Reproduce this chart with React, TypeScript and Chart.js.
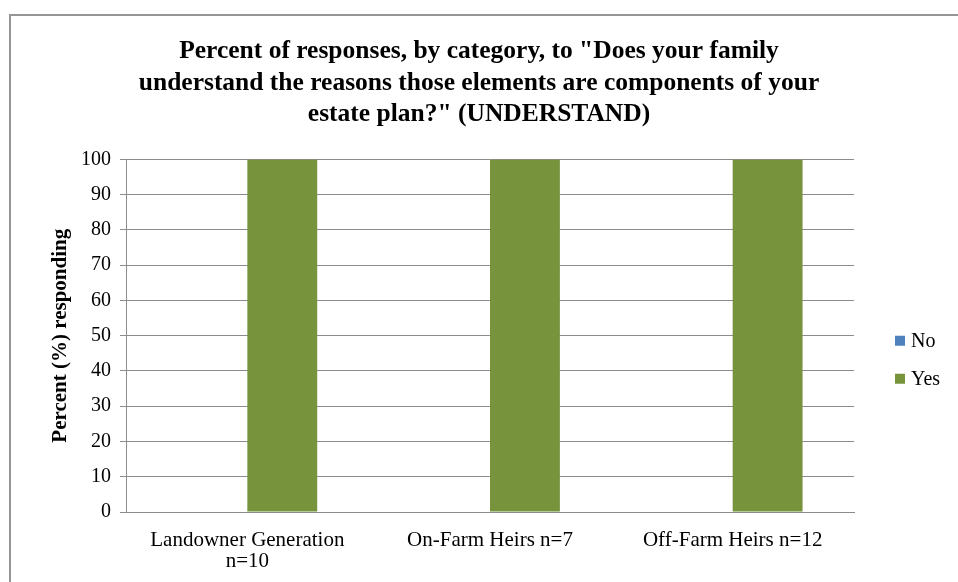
import React, { useEffect, useRef } from "react";
import { Chart, registerables } from "chart.js";

Chart.register(...registerables);

const titleLines = [
  'Percent of responses, by category, to "Does your family',
  "understand the reasons those elements are components of your",
  'estate plan?" (UNDERSTAND)',
];
const categories = [
  ["Landowner Generation", "n=10"],
  ["On-Farm Heirs n=7"],
  ["Off-Farm Heirs n=12"],
];
const seriesNames = ["No", "Yes"];
const noValues = [0, 0, 0];
const yesValues = [100, 100, 100];
const yTicks = { min: 0, max: 100, step: 10 };
const yAxisTitle = "Percent (%) responding";

const SERIF = "'Liberation Serif', 'Times New Roman', serif";
const GRID = "#8c8c8c";

const borderPlugin = {
  id: "outerBorder",
  beforeDraw(chart: any) {
    const ctx = chart.ctx;
    ctx.save();
    ctx.fillStyle = "#ffffff";
    ctx.fillRect(0, 0, chart.width, chart.height);
    ctx.strokeStyle = "#959595";
    ctx.lineWidth = 2;
    ctx.strokeRect(10, 15, 2000, 2000);
    ctx.restore();
  },
};

const legendPlugin = {
  id: "sideLegend",
  afterDraw(chart: any) {
    const ctx = chart.ctx;
    const area = chart.chartArea;
    const cy = (area.top + area.bottom) / 2;
    const x = area.right + 41;
    ctx.save();
    ctx.font = `20px ${SERIF}`;
    ctx.textBaseline = "middle";
    ctx.textAlign = "left";
    chart.data.datasets.forEach((ds: any, i: number) => {
      const y = cy + 5 + i * 38;
      ctx.fillStyle = ds.backgroundColor;
      ctx.fillRect(x, y - 5, 10, 10);
      ctx.fillStyle = "#000000";
      ctx.fillText(ds.label, x + 16, y + 1);
    });
    ctx.restore();
  },
};

export default function App() {
  const ref = useRef<HTMLCanvasElement>(null);
  useEffect(() => {
    const canvas = ref.current;
    if (!canvas) return;
    const chart = new Chart(canvas, {
      type: "bar",
      data: {
        labels: categories,
        datasets: [
          { label: seriesNames[0], data: noValues, backgroundColor: "#4F81BD" },
          { label: seriesNames[1], data: yesValues, backgroundColor: "#77933C" },
        ],
      },
      options: {
        responsive: false,
        animation: false,
        devicePixelRatio: 1,
        layout: { padding: { left: 0, right: 0, top: 0, bottom: 0 } },
        datasets: { bar: { categoryPercentage: 0.576, barPercentage: 1 } },
        plugins: {
          legend: { display: false },
          tooltip: { enabled: false },
          title: {
            display: true,
            text: titleLines,
            color: "#000000",
            font: { family: SERIF, size: 25.5, weight: "bold", lineHeight: 1.235 },
            padding: { top: 36, bottom: 29 },
          },
        },
        scales: {
          x: {
            grid: { display: false },
            border: { display: true, color: GRID, width: 1 },
            ticks: {
              color: "#000000",
              font: { family: SERIF, size: 21, lineHeight: 1.0 },
              padding: 10,
              maxRotation: 0,
              autoSkip: false,
            },
            afterFit: (s: any) => {
              s.height = 70;
            },
          },
          y: {
            min: yTicks.min,
            max: yTicks.max,
            grid: { color: GRID, lineWidth: 1, tickLength: 6, drawTicks: true },
            border: { display: true, color: GRID, width: 1 },
            ticks: {
              stepSize: yTicks.step,
              color: "#000000",
              font: { family: SERIF, size: 20 },
              padding: 9,
            },
            title: {
              display: true,
              text: yAxisTitle,
              color: "#000000",
              font: { family: SERIF, size: 21, weight: "bold", lineHeight: 1.2 },
              padding: { top: 48, bottom: 0 },
            },
            afterFit: (s: any) => {
              s.width = 126;
            },
          },
          spacer: {
            type: "linear",
            position: "right",
            display: true,
            grid: { display: false },
            border: { display: false },
            ticks: { display: false },
            afterFit: (s: any) => {
              s.width = 104;
            },
          },
        },
      },
      plugins: [borderPlugin, legendPlugin],
    } as any);
    return () => chart.destroy();
  }, []);
  return (
    <div style={{ position: "absolute", left: 0, top: 0, width: 958, height: 582 }}>
      <canvas ref={ref} width={958} height={582} style={{ display: "block" }} />
    </div>
  );
}
